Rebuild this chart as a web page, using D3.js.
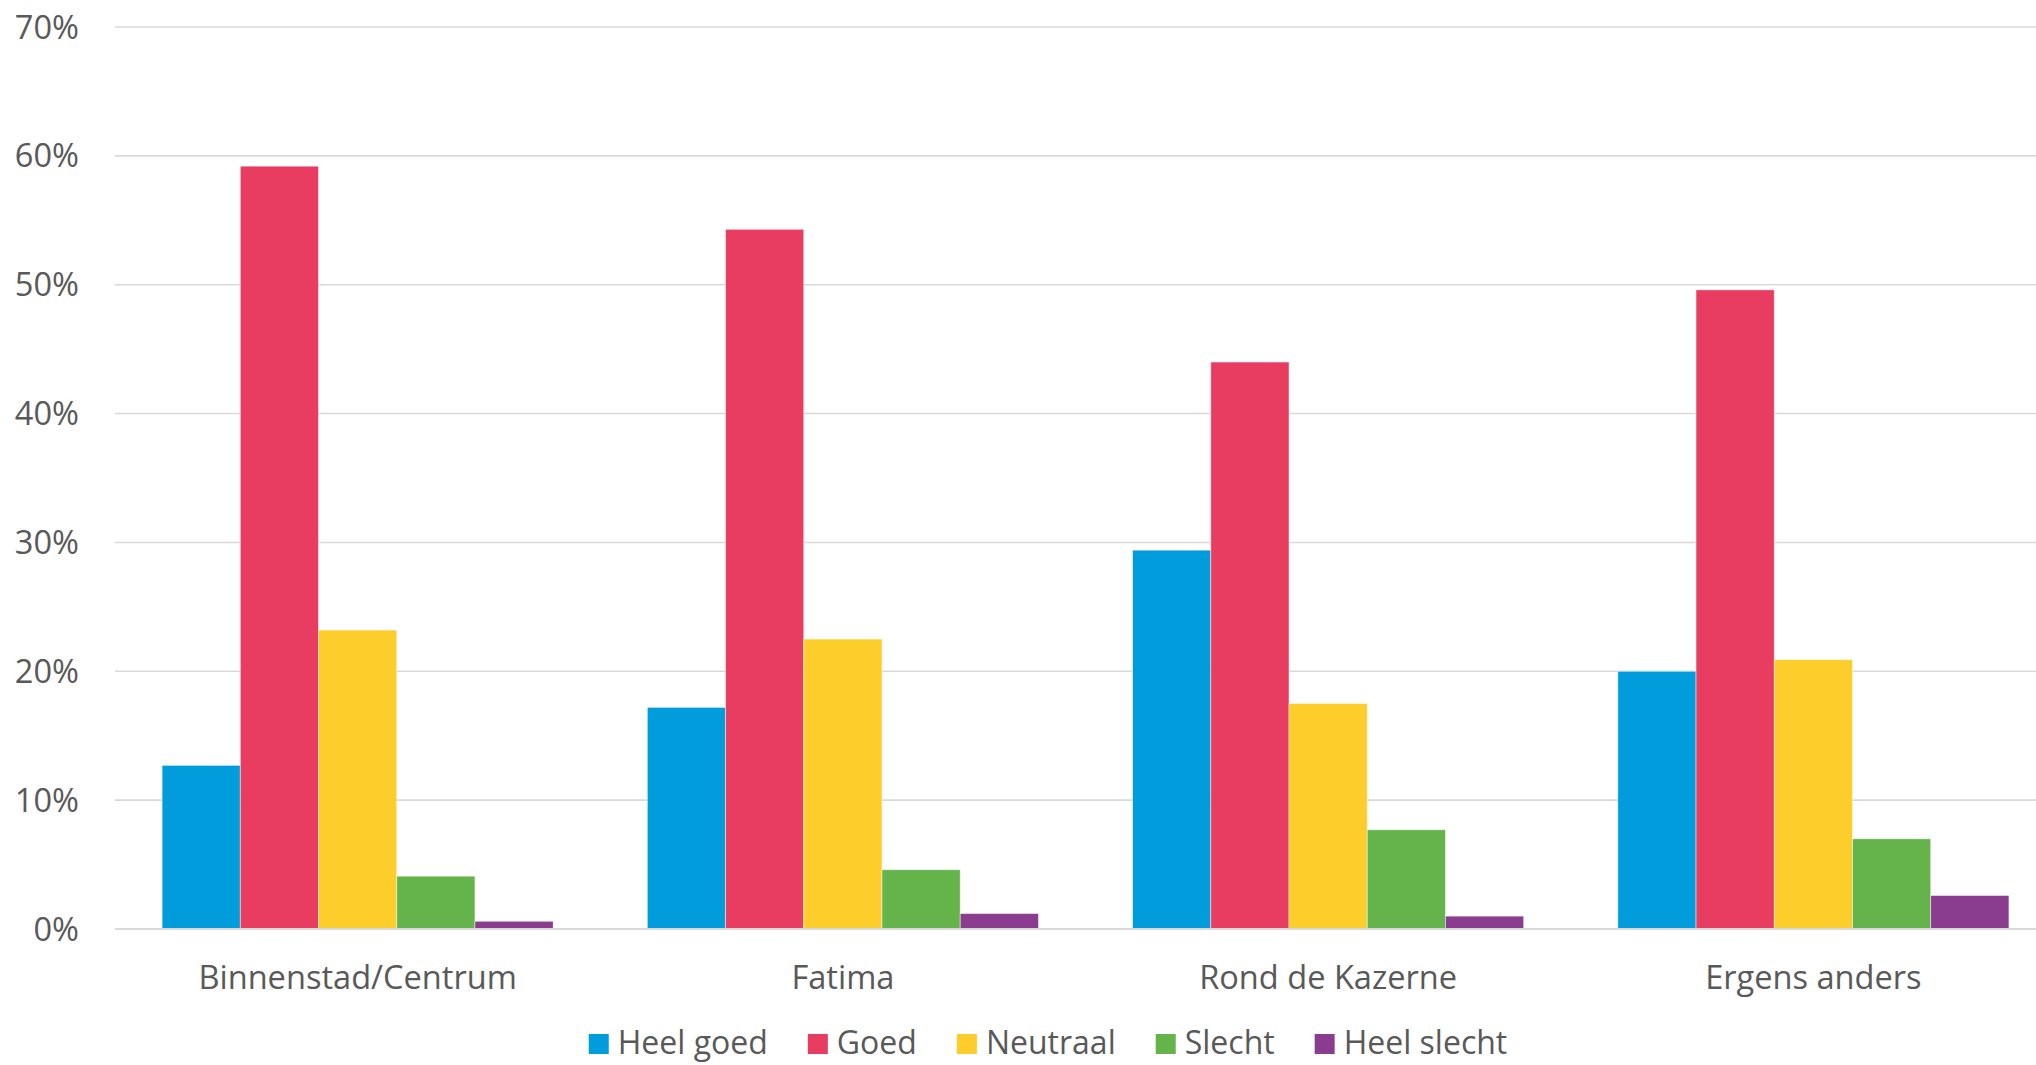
<!DOCTYPE html>
<html>
<head>
<meta charset="utf-8">
<script src="https://cdn.jsdelivr.net/npm/d3@7"></script>
<style>
  html, body { margin: 0; padding: 0; background: #fff; }
  svg { display: block; font-family: "Open Sans", "Noto Sans", sans-serif; }
</style>
</head>
<body>
<svg id="chart" width="2036" height="1065"></svg>
<script>
const categories = ["Binnenstad/Centrum", "Fatima", "Rond de Kazerne", "Ergens anders"];
const seriesNames = ["Heel goed", "Goed", "Neutraal", "Slecht", "Heel slecht"];
const heelGoed   = [12.7, 17.2, 29.4, 20.0];
const goed       = [59.2, 54.3, 44.0, 49.6];
const neutraal   = [23.2, 22.5, 17.5, 20.9];
const slecht     = [4.1, 4.6, 7.7, 7.0];
const heelSlecht = [0.6, 1.2, 1.0, 2.6];
const yTicks = [0, 10, 20, 30, 40, 50, 60, 70];
const colors = ["#019cdb", "#e83d61", "#fdcd2b", "#65b34b", "#8a3d8f"];

const seriesValues = [heelGoed, goed, neutraal, slecht, heelSlecht];
const rows = categories.map((c, i) => ({
  category: c,
  values: seriesNames.map((s, j) => ({ series: s, value: seriesValues[j][i] }))
}));

const svg = d3.select("#chart");
const plotLeft = 115, plotRight = 2056, plotTop = 27, plotBottom = 929;
const fontSize = "32.6px";

const y = d3.scaleLinear().domain([0, 70]).range([plotBottom, plotTop]);
const x0 = d3.scaleBand().domain(categories).range([plotLeft, plotRight])
  .paddingInner(0.194).paddingOuter(0.097);
const x1 = d3.scaleBand().domain(seriesNames).range([0, x0.bandwidth()]).padding(0);
const color = d3.scaleOrdinal().domain(seriesNames).range(colors);

// gridlines
svg.append("g").selectAll("line").data(yTicks).join("line")
  .attr("x1", plotLeft).attr("x2", plotRight)
  .attr("y1", d => y(d)).attr("y2", d => y(d))
  .attr("stroke", "#d9d9d9").attr("stroke-width", 1.6);

// y axis labels
const yAxis = d3.axisLeft(y).tickValues(yTicks).tickFormat(d => d + "%").tickSize(0).tickPadding(0);
const yg = svg.append("g").attr("transform", "translate(79,0)").call(yAxis);
yg.select(".domain").remove();
yg.selectAll("text").attr("fill", "#595959").style("font-size", fontSize)
  .style("font-family", "'Open Sans', sans-serif").attr("dy", "0.34em");

// bars
svg.append("g").selectAll("g").data(rows).join("g")
  .attr("transform", d => `translate(${x0(d.category)},0)`)
  .selectAll("rect").data(d => d.values).join("rect")
  .attr("x", d => x1(d.series))
  .attr("width", x1.bandwidth())
  .attr("y", d => y(d.value))
  .attr("height", d => y(0) - y(d.value))
  .attr("fill", d => color(d.series))
  .attr("stroke", "#ffffff").attr("stroke-width", 0.8).attr("stroke-opacity", 0.6);

// baseline
svg.append("line").attr("x1", plotLeft).attr("x2", plotRight)
  .attr("y1", y(0)).attr("y2", y(0)).attr("stroke", "#d9d9d9").attr("stroke-width", 2);

// x axis labels
const xAxis = d3.axisBottom(x0).tickSize(0).tickPadding(0);
const xg = svg.append("g").attr("transform", `translate(0,${plotBottom})`).call(xAxis);
xg.select(".domain").remove();
xg.selectAll("text").attr("fill", "#595959").style("font-size", fontSize)
  .style("font-family", "'Open Sans', sans-serif").attr("y", 60).attr("dy", 0);

// legend
const legend = svg.append("g");
const items = legend.selectAll("g").data(seriesNames).join("g");
items.append("rect").attr("width", 20).attr("height", 20).attr("y", 1034)
  .attr("fill", d => color(d));
items.append("text").text(d => d).attr("x", 29).attr("y", 1054)
  .attr("fill", "#595959").style("font-size", "32px")
  .style("font-family", "'Open Sans', sans-serif");
let widths = [];
items.each(function () {
  widths.push(29 + d3.select(this).select("text").node().getComputedTextLength());
});
const gap = 40;
const total = d3.sum(widths) + gap * (widths.length - 1);
let cx = 1048 - total / 2;
items.each(function (d, i) {
  d3.select(this).attr("transform", `translate(${cx},0)`);
  cx += widths[i] + gap;
});
</script>
</body>
</html>
